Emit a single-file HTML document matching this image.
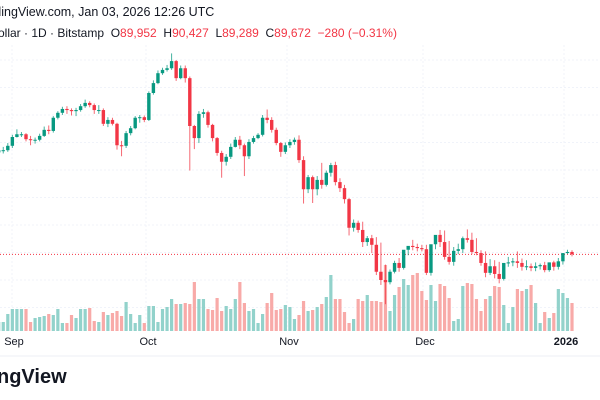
<!DOCTYPE html>
<html><head><meta charset="utf-8"><style>
html,body{margin:0;padding:0;background:#fff;width:600px;height:400px;overflow:hidden;font-family:"Liberation Sans",sans-serif}
.t{position:absolute;white-space:nowrap;color:#131722}
</style></head><body>
<div style="position:relative;width:600px;height:400px">
<div class="t" style="left:-24px;top:5px;font-size:12.5px">TradingView.com, Jan 03, 2026 12:26 UTC</div>
<div class="t" style="left:-2px;top:26px;font-size:12px">ollar · 1D · Bitstamp &nbsp;O<span style="color:#f23645">89,952</span> &nbsp;H<span style="color:#f23645">90,427</span> &nbsp;L<span style="color:#f23645">89,289</span> &nbsp;C<span style="color:#f23645">89,672</span> &nbsp;<span style="color:#f23645">−280 (−0.31%)</span></div>
<svg id="svg" width="600" height="400" style="position:absolute;left:0;top:0"></svg>
<div class="t" style="left:-3px;top:366px;font-size:20px;font-weight:bold">ngView</div>
</div>
<script>
const closes=[108.6,108.6,109.4,111.0,111.5,111.5,110.6,110.5,110.5,111.2,112.3,112.1,114.5,115.4,116.1,115.9,115.7,115.9,116.6,117.2,116.8,115.9,115.9,113.4,114.1,113.4,109.5,109.4,111.7,112.6,114.5,114.6,114.1,119.0,120.8,122.6,123.2,123.5,124.8,121.7,123.5,121.7,113.0,110.8,115.2,115.5,113.2,110.8,108.1,106.5,107.4,109.2,110.5,109.5,107.5,110.1,110.8,111.4,114.5,114.1,112.3,109.9,108.3,109.5,110.1,110.5,106.8,101.5,103.7,101.5,103.2,102.3,104.5,105.9,102.8,101.7,99.7,94.5,95.4,94.1,91.9,92.6,91.4,86.5,85.0,84.6,86.5,88.1,87.2,90.5,91.2,91.0,90.8,90.6,86.3,91.5,93.2,91.9,89.2,88.3,90.3,90.6,92.6,92.3,90.1,89.9,88.1,86.3,87.5,86.1,85.2,88.1,88.2,88.4,88.1,87.4,87.5,87.2,87.5,87.7,86.8,88.2,87.4,88.4,89.9,90.1,89.67];
const firstOpen=108.2;
const highs=[109.8,109.2,109.9,111.4,112.4,111.9,111.7,111.2,110.9,111.6,112.9,113.1,114.8,115.7,116.5,116.6,116.2,116.3,117.0,117.8,117.5,117.1,116.8,116.2,114.6,114.5,113.6,110.3,112.1,113.0,114.8,115.0,114.9,119.3,121.3,123.1,123.6,124.1,126.2,125.0,124.0,124.0,122.0,113.2,115.7,116.1,115.8,113.4,111.0,108.5,107.9,109.8,111.0,111.2,109.8,110.6,111.2,111.7,115.0,116.0,114.6,112.7,110.1,110.0,110.6,110.9,111.3,107.5,104.1,104.0,103.9,106.3,104.9,106.3,106.5,103.5,102.3,99.9,96.0,95.8,95.6,93.0,93.2,92.8,91.8,87.8,86.9,88.5,89.0,89.6,91.0,92.3,91.6,91.4,91.4,91.2,92.0,94.1,94.0,92.1,91.0,91.6,92.9,94.2,93.6,92.6,90.4,90.2,88.8,88.6,88.3,87.9,89.2,89.0,90.2,88.9,88.6,88.0,88.2,88.0,88.3,88.2,88.5,89.0,88.7,90.5,90.4,90.43];
const lows=[107.4,108.0,108.3,109.0,110.9,111.0,110.2,109.5,109.8,110.2,111.0,111.5,111.8,114.2,115.0,115.2,114.9,114.8,115.6,116.3,116.4,115.2,115.2,113.0,112.8,113.1,108.7,107.5,109.0,111.3,112.4,113.6,113.7,113.9,118.7,120.6,122.3,122.9,123.2,121.2,121.5,120.9,104.9,108.8,109.9,114.5,112.7,110.2,107.6,103.6,105.8,107.0,109.1,108.8,103.9,107.0,109.8,110.6,111.1,113.5,111.8,109.5,107.4,107.9,109.0,109.6,106.3,98.9,100.8,99.0,100.4,101.6,102.0,103.8,102.2,101.0,98.9,93.1,93.8,93.6,91.0,91.2,89.9,85.9,84.1,80.6,84.2,86.2,86.5,86.9,89.5,90.4,90.2,90.2,85.9,85.8,90.6,91.0,88.7,87.8,87.6,89.7,89.9,91.8,89.7,89.5,87.6,85.5,85.9,85.3,84.4,84.9,87.4,87.5,87.2,86.7,86.8,86.6,86.6,86.9,86.4,86.5,86.7,86.9,87.8,89.7,89.29];
const volumes=[9,9,17,22,22,22,22,9,13,14,15,17,16,22,8,8,16,13,22,22,23,10,9,19,16,18,20,15,29,17,8,16,8,25,25,9,22,24,32,27,27,28,27,49,32,32,22,21,33,20,25,22,32,49,28,20,22,8,17,28,38,21,22,26,24,12,16,30,20,21,24,27,34,56,32,32,19,8,12,32,30,36,30,30,29,66,20,36,44,52,46,56,58,40,31,46,30,47,45,33,10,12,45,48,47,32,20,32,35,45,44,26,8,24,42,40,42,46,28,8,19,13,18,42,38,33,28,25,30,12,21];
const ticks=[{l:"Sep",x:14},{l:"Oct",x:148},{l:"Nov",x:289},{l:"Dec",x:425},{l:"2026",x:566,b:1}];
const gridPrices=[125,120,115,110,105,100,95,90,85,80];

const NS="http://www.w3.org/2000/svg",svg=document.getElementById('svg');
const y=p=>60+(125-p)*5.5;
const n=closes.length, x=i=>572-(n-1-i)*4.55;
const vy=v=>331-v;
function mk(t,a){const e=document.createElementNS(NS,t);for(const k in a)e.setAttribute(k,a[k]);svg.appendChild(e);return e;}
gridPrices.forEach(p=>{const e=mk('line',{x1:0,x2:600,y1:y(p),y2:y(p),stroke:'#f0f3fa','stroke-dasharray':'2,2'});

});
ticks.forEach(t=>{const e=mk('line',{x1:t.x-2,x2:t.x-2,y1:45,y2:332,stroke:'#f0f3fa','stroke-dasharray':'2,2'});

});
mk('line',{x1:0,x2:600,y1:356,y2:356,stroke:'#eceff4'});
for(let i=0;i<n;i++){
 const o=i?closes[i-1]:firstOpen,c=closes[i],up=c>=o;
 const r=mk('rect',{x:x(i)-1.6,width:3.2,y:vy(volumes[i]),height:volumes[i],fill:up?'#92d2cb':'#f8aaa8'});
 
 
}
mk('line',{x1:0,x2:600,y1:y(closes[n-1]),y2:y(closes[n-1]),stroke:'#f23645','stroke-dasharray':'1,2','stroke-width':1});
for(let i=0;i<n;i++){
 const o=i?closes[i-1]:firstOpen,c=closes[i],up=c>=o,col=up?'#089981':'#f23645';
 const w=mk('line',{x1:x(i),x2:x(i),y1:y(highs[i]),y2:y(lows[i]),stroke:col,'stroke-width':1,opacity:0.75});
 
 
 const t=Math.min(y(o),y(c)),h=Math.max(1,Math.abs(y(o)-y(c)));
 const b=mk('rect',{x:x(i)-1.7,width:3.4,y:t,height:h,fill:col});
 
 
}
ticks.forEach(t=>{const e=mk('text',{x:t.x,y:345,'font-size':11,'text-anchor':'middle',fill:'#131722','font-family':'Liberation Sans, sans-serif','font-weight':t.b?'bold':'normal'});e.textContent=t.l;

});
</script>
</body></html>
